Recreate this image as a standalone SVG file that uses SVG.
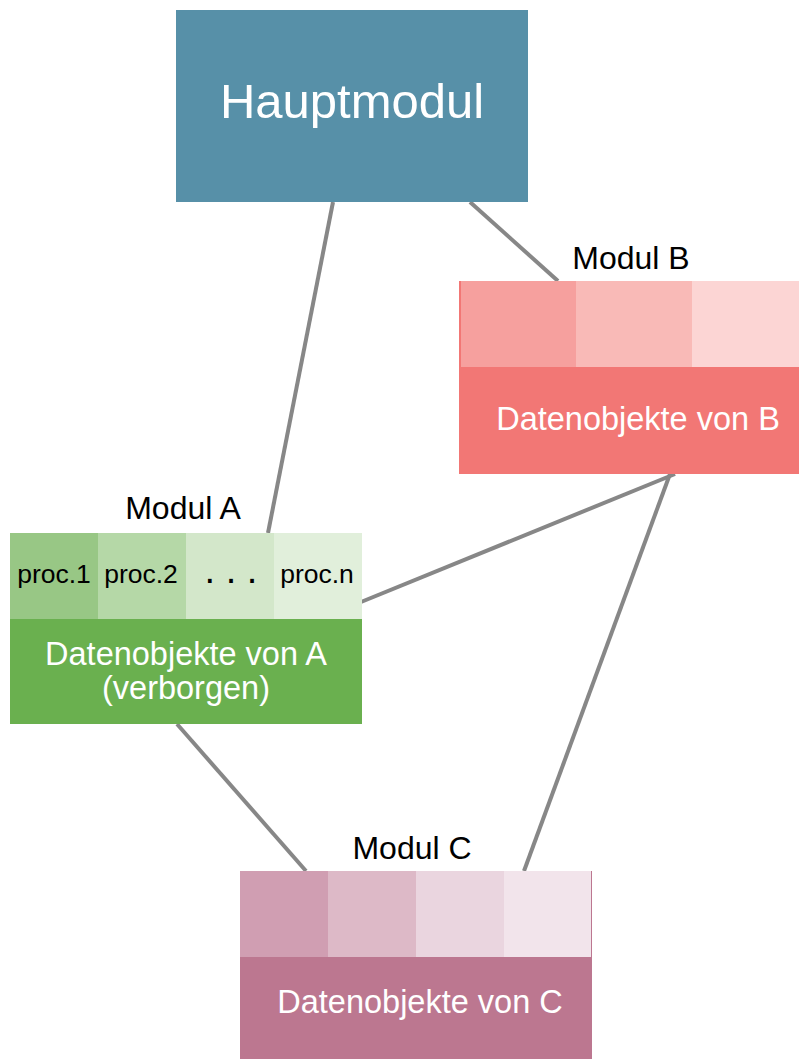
<svg xmlns="http://www.w3.org/2000/svg" width="799" height="1059" viewBox="0 0 799 1059">
  <style>
    .edge { stroke: #878787; stroke-width: 4; fill: none; }
    text { font-family: "Liberation Sans", Arial, sans-serif; text-anchor: middle; }
    .title { font-size: 32px; fill: #000; }
    .proc { font-size: 26.5px; fill: #000; }
    .data { font-size: 32.5px; fill: #fff; }
  </style>
  <rect width="799" height="1059" fill="#fff"/>

  <!-- connectors -->
  <g id="connectors">
    <line class="edge" x1="333" y1="202" x2="268" y2="533"/>
    <line class="edge" x1="470" y1="202" x2="558" y2="281"/>
    <line class="edge" x1="675" y1="474" x2="361" y2="602"/>
    <line class="edge" x1="670" y1="474" x2="524" y2="871"/>
    <line class="edge" x1="177" y1="724" x2="306" y2="871"/>
  </g>

  <!-- main module -->
  <g id="hauptmodul">
    <rect x="176" y="10" width="352" height="192" fill="#5790a8"/>
    <text x="352" y="118" font-size="49" fill="#fff">Hauptmodul</text>
  </g>

  <!-- module A -->
  <g id="modul-a">
    <text class="title" x="183" y="519">Modul A</text>
    <rect x="10" y="533" width="88" height="86" fill="#98c785"/>
    <rect x="98" y="533" width="88" height="86" fill="#b5d8a7"/>
    <rect x="186" y="533" width="88" height="86" fill="#d3e7ca"/>
    <rect x="274" y="533" width="88" height="86" fill="#e1efdb"/>
    <rect x="10" y="619" width="352" height="105" fill="#6ab04f"/>
    <text class="proc" x="54" y="583">proc.1</text>
    <text class="proc" x="141" y="583">proc.2</text>
    <text x="231" y="583" font-size="38" fill="#000">. . .</text>
    <text class="proc" x="317" y="583">proc.n</text>
    <text class="data" x="186" y="665" font-size="30">Datenobjekte von A</text>
    <text class="data" x="186" y="699" font-size="30">(verborgen)</text>
  </g>

  <!-- module B -->
  <g id="modul-b">
    <text class="title" x="631" y="269">Modul B</text>
    <rect x="459" y="281" width="340" height="193" fill="#f27775"/>
    <rect x="461" y="281" width="115" height="86" fill="#f6a09e"/>
    <rect x="576" y="281" width="116" height="86" fill="#f9bab7"/>
    <rect x="692" y="281" width="107" height="86" fill="#fcd5d4"/>
    <text class="data" x="638" y="430">Datenobjekte von B</text>
  </g>

  <!-- module C -->
  <g id="modul-c">
    <text class="title" x="412" y="859">Modul C</text>
    <rect x="240" y="871" width="352" height="188" fill="#bc7790"/>
    <rect x="240" y="871" width="88" height="86" fill="#d09eb2"/>
    <rect x="328" y="871" width="88" height="86" fill="#ddb9c7"/>
    <rect x="416" y="871" width="88" height="86" fill="#ead5df"/>
    <rect x="504" y="871" width="87" height="86" fill="#f2e4eb"/>
    <text class="data" x="420" y="1013">Datenobjekte von C</text>
  </g>
</svg>
